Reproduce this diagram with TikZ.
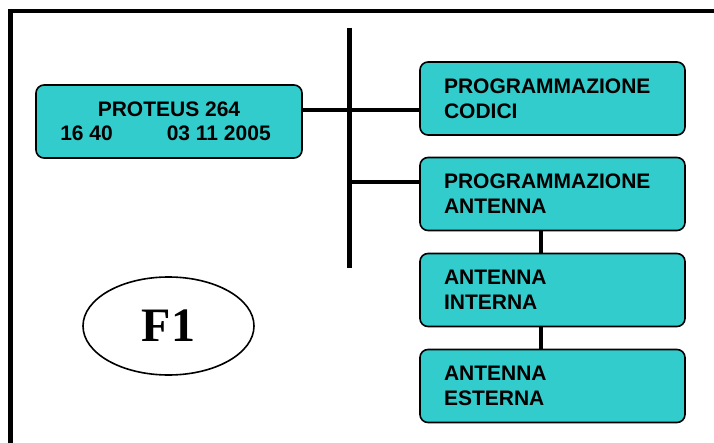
\documentclass[tikz,border=0pt]{standalone}
\usepackage{fontspec}
\setmainfont{Liberation Sans}
\newfontfamily\serifbold{Liberation Serif}
\usetikzlibrary{shapes.geometric}
\definecolor{boxcyan}{RGB}{51,204,204}
\tikzset{
  menubox/.style={draw=black, line width=1.6pt, fill=boxcyan, rounded corners=8pt,
    minimum width=265pt, minimum height=73pt, text width=217pt, inner xsep=24pt,
    align=left, font=\fontsize{21}{25}\selectfont\bfseries, anchor=center},
  headbox/.style={draw=black, line width=1.6pt, fill=boxcyan, rounded corners=8pt,
    minimum width=266pt, minimum height=73pt, align=center,
    font=\fontsize{21}{24}\selectfont\bfseries},
  link/.style={line width=4.8pt},
  frame/.style={line width=4.5pt}
}
\begin{document}
\begin{tikzpicture}[x=1pt,y=-1pt]
\useasboundingbox (0,0) rectangle (714,443);
% frame
\coordinate (fbl) at (10.5,446);
\coordinate (ftl) at (10.5,11);
\coordinate (ftr) at (717,11);
\draw[frame] (fbl) -- (ftl) -- (ftr);
% nodes
\node[headbox] (main) at (169,121.5) {PROTEUS 264\\16 40\hspace{54pt}03 11 2005\kern7pt};
\node[menubox] (codici) at (552.5,98.5) {PROGRAMMAZIONE\\CODICI};
\node[menubox] (prant) at (552.5,194) {PROGRAMMAZIONE\\ANTENNA};
\node[menubox] (intn) at (552.5,290) {ANTENNA\\INTERNA};
\node[menubox] (estn) at (552.5,386) {ANTENNA\\ESTERNA};
\node[draw, ellipse, line width=1.6pt, minimum width=171pt, minimum height=98pt,
  inner sep=0pt, font=\serifbold\fontsize{48}{48}\selectfont\bfseries] (f1) at (168.5,326) {F1};
% bus
\coordinate (bustop) at (349.5,28);
\coordinate (busbot) at (349.5,268);
\draw[link, line width=4.5pt] (bustop) -- (busbot);
% branches
\draw[link] ([yshift=11.5pt]main.east) -- ([yshift=11.5pt]main.east -| codici.west);
\draw[link] ([yshift=12pt]prant.west) -- ([yshift=12pt]prant.west -| bustop);
\draw[link] ([xshift=-11.5pt]prant.south) -- ([xshift=-11.5pt]intn.north);
\draw[link] ([xshift=-11.5pt]intn.south) -- ([xshift=-11.5pt]estn.north);
\end{tikzpicture}
\end{document}
